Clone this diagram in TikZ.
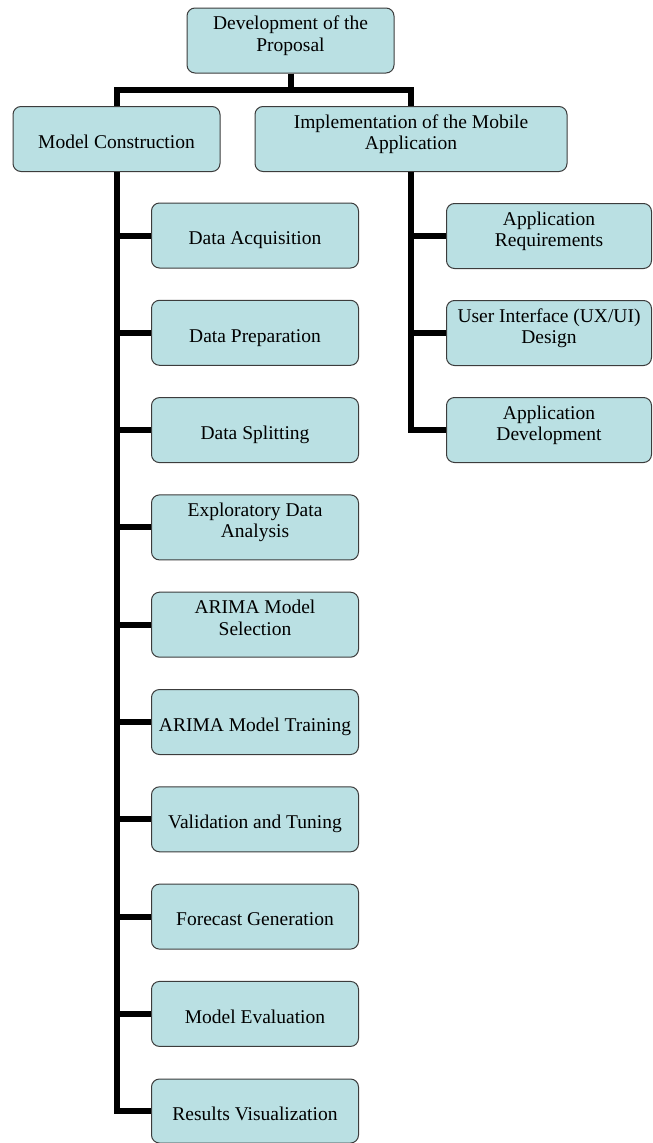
\documentclass[tikz,border=0pt]{standalone}
\usepackage{fontspec}
\setmainfont{Liberation Serif}
\usepackage{xcolor}
\definecolor{boxfill}{RGB}{186,224,227}
\definecolor{boxline}{RGB}{60,60,60}
\usetikzlibrary{positioning}

\begin{document}
\begin{tikzpicture}[x=1pt,y=-1pt,
  b/.style={draw=boxline,line width=1pt,fill=boxfill,rounded corners=8pt,align=center,
    minimum width=207pt,minimum height=65pt,inner sep=1pt,
    font=\fontsize{19.5}{21.5}\selectfont},
  one/.style={b,text height=23pt,text depth=4.5pt},
  two/.style={b,text depth=14pt},
  conn/.style={line width=6pt,black}]
  \useasboundingbox (0,0) rectangle (653,1143);
  % top levels
  \node[two](root)at(290.5,40.5){Development of the\\Proposal};
  \node[one](mc)at(116.5,139){Model Construction};
  \node[two,minimum width=312pt](impl)at(411,139){Implementation of the Mobile\\Application};
  % model construction steps
  \node[one](d1)at(255,235.5){Data Acquisition};\node[one](d2)at(255,332.8){Data Preparation};
  \node[one](d3)at(255,430.1){Data Splitting};\node[two](d4)at(255,527.4){Exploratory Data\\Analysis};
  \node[two](d5)at(255,624.7){ARIMA Model\\Selection};\node[one](d6)at(255,722){ARIMA Model Training};
  \node[one](d7)at(255,819.3){Validation and Tuning};\node[one](d8)at(255,916.6){Forecast Generation};
  \node[one](d9)at(255,1013.9){Model Evaluation};\node[one,minimum height=64pt](d10)at(255,1111){Results Visualization};
  % mobile application steps
  \node[two,minimum width=205pt](a1)at(549,236){Application\\Requirements};
  \node[two,minimum width=205pt](a2)at(549,333){User Interface (UX/UI)\\Design};
  \node[two,minimum width=205pt](a3)at(549,430){Application\\Development};
  % connectors
  \draw[conn](root.south)--++(0,16)-|(mc.north);\draw[conn](root.south)--++(0,16)-|(impl.north);
  \draw[conn](mc.south)|-(d1.west);\draw[conn](mc.south)|-(d2.west);\draw[conn](mc.south)|-(d3.west);
  \draw[conn](mc.south)|-(d4.west);\draw[conn](mc.south)|-(d5.west);\draw[conn](mc.south)|-(d6.west);
  \draw[conn](mc.south)|-(d7.west);\draw[conn](mc.south)|-(d8.west);\draw[conn](mc.south)|-(d9.west);
  \draw[conn](mc.south)|-(d10.west);
  \draw[conn](impl.south)|-(a1.west);\draw[conn](impl.south)|-(a2.west);\draw[conn](impl.south)|-(a3.west);
\end{tikzpicture}
\end{document}
